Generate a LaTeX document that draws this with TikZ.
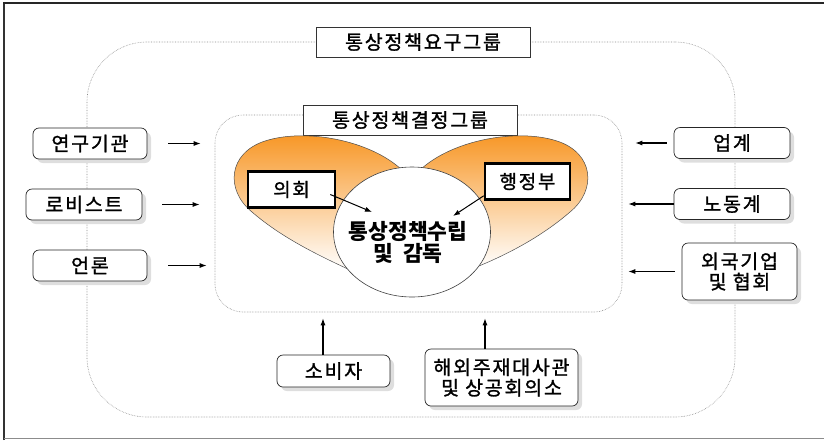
\documentclass[tikz,border=0pt]{standalone}
\usepackage{fontspec}
\setmainfont{Noto Sans CJK KR}
\newfontfamily\krbody{Noto Sans CJK KR}[LetterSpace=9,FakeBold=1.3]
\usetikzlibrary{shadows,arrows.meta,shapes.geometric}
\definecolor{petal}{RGB}{247,146,28}
\begin{document}
\begin{tikzpicture}[x=1pt,y=-1pt,
  grpline/.style={draw=black!45, line width=0.6pt, densely dotted},
  titlebox/.style={draw=black!80, fill=white, line width=0.8pt, font=\krbody\fontsize{19.5}{21}\selectfont, inner sep=0pt, minimum width=214pt, minimum height=30pt},
  sidebox/.style={draw=black!85, fill=white, rounded corners=6pt, line width=0.7pt, drop shadow={shadow xshift=4pt, shadow yshift=-4pt, fill=black!13, opacity=1}, font=\krbody\fontsize{19.5}{20.5}\selectfont, inner sep=0pt, minimum height=31pt, align=center},
  thickbox/.style={draw=black, line width=2.6pt, fill=white, font=\krbody\fontsize{19}{21}\selectfont, inner sep=0pt, minimum width=85pt, minimum height=36pt},
  arr/.style={-{Latex[length=7pt,width=5pt]}, line width=1.1pt},
  petalfill/.style={top color=petal, bottom color=white, draw=black!70, line width=0.5pt}
]
\useasboundingbox (0,0) rectangle (824,440);
% frame
\draw[black!80, line width=2pt] (4,440) -- (4,3);
\draw[black!85, line width=1.2pt] (3,3) -- (824,3);
\draw[black!45, line width=1pt] (4,438) -- (824,438);

% groups
\node[grpline, rounded corners=60pt, minimum width=648pt, minimum height=375pt, inner sep=0pt] (outer) at (411,229.5) {};
\node[grpline, rounded corners=28pt, minimum width=407pt, minimum height=197pt, inner sep=0pt] (inner) at (418.5,213.5) {};
\node[titlebox] (outertitle) at (423,42) {통상정책요구그룹};
\node[titlebox] (innertitle) at (410,120) {통상정책결정그룹};

% petals
\shade[petalfill] (402,170) .. controls (370,140) and (305,128) .. (265,141)
  .. controls (228,153) and (225,190) .. (252,212)
  .. controls (282,238) and (320,256) .. (350,270) -- (385,230) -- cycle;
\shade[petalfill] (420,170) .. controls (452,140) and (517,128) .. (557,141)
  .. controls (594,153) and (597,190) .. (570,212)
  .. controls (540,238) and (504,256) .. (474,268) -- (440,230) -- cycle;

% core
\node[draw=black!75, fill=white, ellipse, line width=0.6pt, minimum width=157pt, minimum height=130pt] (core) at (412,232) {};
\node[font=\bfseries\fontsize{21.5}{22}\selectfont, align=center, inner sep=0pt] (coretext) at (408,242) {통상정책수립\\및\hspace{5pt} 감독};

\node[thickbox, minimum width=87pt] (uihoe) at (291.5,189.5) {의회};
\node[thickbox] (hjb) at (527.5,181.5) {행정부};
\coordinate (t1) at (372,212);
\coordinate (t2) at (453,216);
\draw[arr, line width=1pt] ([xshift=-6pt,yshift=-5pt]uihoe.east) -- (t1);
\draw[arr, line width=1pt] ([yshift=5pt]hjb.south west) -- (t2);

% left
\node[sidebox, minimum width=114pt] (l1) at (90,143.5) {연구기관};
\node[sidebox, minimum width=116pt] (l2) at (84,204.5) {로비스트};
\node[sidebox, minimum width=114pt] (l3) at (90,265.5) {언론};
\draw[arr, shorten <=21pt, shorten >=14pt] (l1.east) -- (l1.east -| inner.west);
\draw[arr, shorten <=20pt, shorten >=15pt] (l2.east) -- (l2.east -| inner.west);
\draw[arr, shorten <=21pt, shorten >=8pt] (l3.east) -- (l3.east -| inner.west);

% right
\node[sidebox, minimum width=116pt] (r1) at (732,143) {업계};
\node[sidebox, minimum width=116pt] (r2) at (732,204) {노동계};
\node[sidebox, minimum width=115pt, minimum height=57pt] (r3) at (739.5,271.5) {외국기업\\및 협회};
\draw[arr, shorten <=7pt, shorten >=13pt] (r1.west) -- (r1.west -| inner.east);
\draw[arr, shorten <=0pt, shorten >=6pt] (r2.west) -- (r2.west -| inner.east);
\draw[arr, shorten <=7pt, shorten >=6pt] (r3.west) -- (r3.west -| inner.east);

% bottom
\node[sidebox, minimum width=113pt, minimum height=32pt] (b1) at (333.5,371) {소비자};
\node[sidebox, minimum width=153pt, minimum height=57pt] (b2) at (501.5,377.5) {해외주재대사관\\및 상공회의소};
\draw[arr, shorten >=6pt] (b1.north -| 323,0) -- (inner.south -| 323,0);
\draw[arr, shorten >=6pt] (b2.north -| 485,0) -- (inner.south -| 485,0);
\end{tikzpicture}
\end{document}
